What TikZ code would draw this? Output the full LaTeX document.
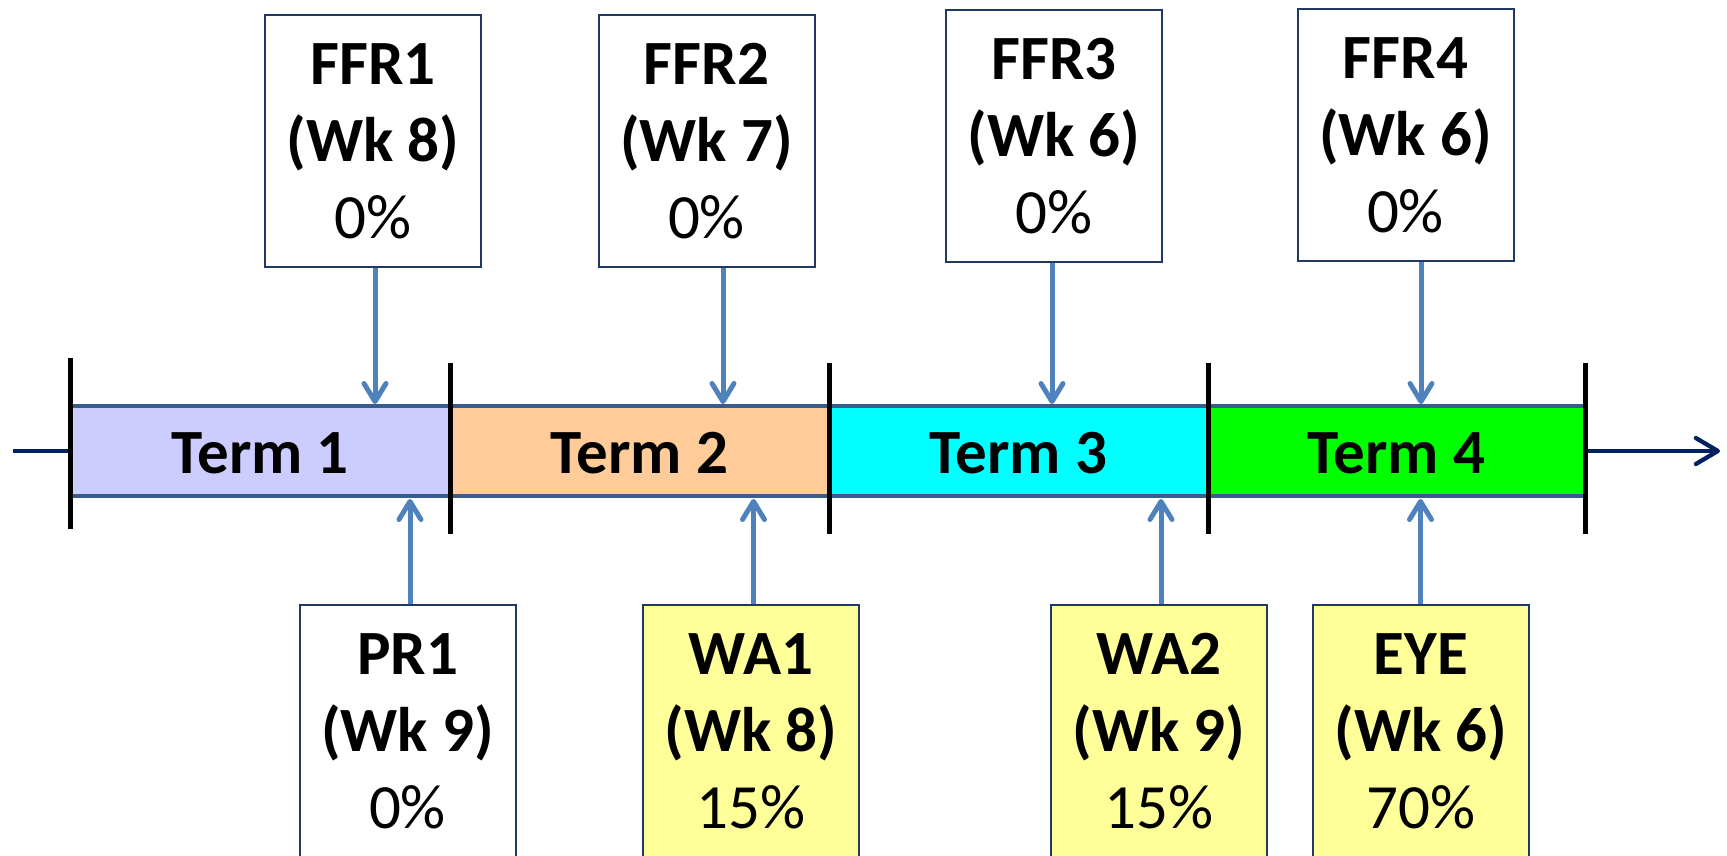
\documentclass[tikz,border=0pt]{standalone}
\usepackage{fontspec}
\setmainfont{Carlito}
\usetikzlibrary{arrows.meta}

\definecolor{navy}{RGB}{0,32,96}
\definecolor{linkblue}{RGB}{79,129,189}
\definecolor{termedge}{RGB}{56,93,138}
\definecolor{boxedge}{RGB}{31,56,100}
\definecolor{termA}{RGB}{204,204,255}
\definecolor{termB}{RGB}{255,204,153}
\definecolor{termC}{RGB}{0,255,255}
\definecolor{termD}{RGB}{0,255,0}
\definecolor{notefill}{RGB}{255,255,153}

\begin{document}
\begin{tikzpicture}[x=1pt,y=-1pt,
  term/.style={draw=termedge, line width=4pt, minimum height=90pt, inner sep=0pt,
    font=\bfseries\fontsize{63}{75}\selectfont},
  termlabel/.style={font=\bfseries\fontsize{63}{75}\selectfont, inner sep=0pt},
  tickmark/.style={line width=5pt, black},
  axis/.style={draw=navy, line width=4.3pt},
  note/.style={draw=boxedge, line width=2pt, fill=white, minimum width=216pt,
    minimum height=252pt, inner sep=0pt, align=center, font=\fontsize{63}{77}\selectfont},
  yellownote/.style={note, fill=notefill},
  link/.style={draw=linkblue, line width=5pt, -{Straight Barb[length=18pt,width=22pt,round]}},
]
\useasboundingbox (0,0) rectangle (1727,855);
\clip (0,0) rectangle (1727,855);

% timeline ends
\coordinate (axstart) at (13,451);
\coordinate (axend) at (1720,451);

% the four terms
\node[term, fill=termA, minimum width=379.5pt] (term1) at (260.25,451) {};
\node[term, fill=termB, minimum width=379pt] (term2) at (639.5,451) {};
\node[term, fill=termC, minimum width=379pt] (term3) at (1018.5,451) {};
\node[term, fill=termD, minimum width=377pt] (term4) at (1396.5,451) {};
\node[termlabel] (lab1) at ([yshift=-2pt]term1.center) {Term 1};
\node[termlabel] (lab2) at ([yshift=-2pt]term2.center) {Term 2};
\node[termlabel] (lab3) at ([yshift=-2pt]term3.center) {Term 3};
\node[termlabel] (lab4) at ([yshift=-2pt]term4.center) {Term 4};

% axis line
\draw[axis] (axstart) -- (term1.west);
\draw[axis, -{Straight Barb[length=22pt,width=26pt,round]}] (term4.east) -- (axend);

% term boundaries
\draw[tickmark] (70.5,358) -- (70.5,529);
\foreach \x in {450,829,1208,1585}
  \draw[tickmark] (\x,363) -- (\x,534);

% assessments above the timeline
\node[note] (ffr1) at (373,141) {\textbf{FFR1}\\\textbf{(Wk 8)}\\0\%};
\node[note] (ffr2) at (706.5,141) {\textbf{FFR2}\\\textbf{(Wk 7)}\\0\%};
\node[note] (ffr3) at (1054,136) {\textbf{FFR3}\\\textbf{(Wk 6)}\\0\%};
\node[note] (ffr4) at (1405.5,135) {\textbf{FFR4}\\\textbf{(Wk 6)}\\0\%};

% assessments below the timeline
\node[note] (pr1) at (407.5,731) {\textbf{PR1}\\\textbf{(Wk 9)}\\0\%};
\node[yellownote] (wa1) at (751,731) {\textbf{WA1}\\\textbf{(Wk 8)}\\15\%};
\node[yellownote] (wa2) at (1159,731) {\textbf{WA2}\\\textbf{(Wk 9)}\\15\%};
\node[yellownote] (eye) at (1421,731) {\textbf{EYE}\\\textbf{(Wk 6)}\\70\%};

% arrow targets on the bar
\coordinate (a1) at (375,404);
\coordinate (a2) at (723,404);
\coordinate (a3) at (1052,404);
\coordinate (a4) at (1421,404);
\coordinate (b1) at (410,499);
\coordinate (b2) at (753.5,499);
\coordinate (b3) at (1161,499);
\coordinate (b4) at (1420.5,499);

\draw[link] (ffr1.south -| a1) -- (a1);
\draw[link] (ffr2.south -| a2) -- (a2);
\draw[link] (ffr3.south -| a3) -- (a3);
\draw[link] (ffr4.south -| a4) -- (a4);
\draw[link] (pr1.north -| b1) -- (b1);
\draw[link] (wa1.north -| b2) -- (b2);
\draw[link] (wa2.north -| b3) -- (b3);
\draw[link] (eye.north -| b4) -- (b4);
\end{tikzpicture}
\end{document}
